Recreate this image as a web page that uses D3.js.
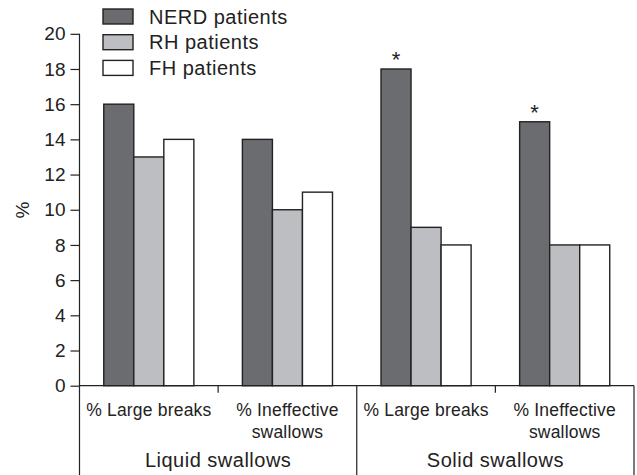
<!DOCTYPE html>
<html><head><meta charset="utf-8">
<script src="https://cdn.jsdelivr.net/npm/d3@7"></script>
<style>body{margin:0;background:#fff}svg{display:block}text{font-family:"Liberation Sans",Arial,sans-serif;fill:#222}</style>
</head><body><svg id="c" width="637" height="475"></svg>
<script>
const categories = ["% Large breaks|", "% Ineffective|swallows", "% Large breaks|", "% Ineffective|swallows"];
const groups = ["Liquid swallows", "Solid swallows"];
const series = ["NERD patients", "RH patients", "FH patients"];
const nerd = [16, 14, 18, 15];
const rh = [13, 10, 9, 8];
const fh = [14, 11, 8, 8];
const starred = [false, false, true, true];
const yTicks = [0, 2, 4, 6, 8, 10, 12, 14, 16, 18, 20];
const colors = ["#6b6c70", "#bdbec1", "#ffffff"];

(function () {
const svg = d3.select("#c");
const pL = 79.5, pR = 634, pT = 33.8, pB = 385.7;
const y = d3.scaleLinear().domain([0, 20]).range([pB, pT]);
const x0 = d3.scaleBand().domain(d3.range(categories.length)).range([pL, pR]).paddingInner(0.35).paddingOuter(0.175);
const x1 = d3.scaleBand().domain(d3.range(series.length)).range([0, x0.bandwidth()]);
const values = [nerd, rh, fh];
const ink = "#222";

values.forEach((vals, s) => {
  svg.append("g").selectAll("rect").data(vals).join("rect")
    .attr("x", (d, i) => x0(i) + x1(s))
    .attr("y", d => y(d))
    .attr("width", x1.bandwidth())
    .attr("height", d => y(0) - y(d))
    .attr("fill", colors[s]).attr("stroke", ink).attr("stroke-width", 1.4);
});

svg.append("g").selectAll("text").data(nerd.map((v, i) => ({v, i})).filter(d => starred[d.i])).join("text")
  .attr("x", d => x0(d.i) + x1(0) + x1.bandwidth() / 2)
  .attr("y", d => y(d.v) - 2)
  .attr("text-anchor", "middle").attr("font-size", 22).text("*");

const yAxis = d3.axisLeft(y).tickValues(yTicks).tickSize(9).tickPadding(5);
const gy = svg.append("g").attr("transform", `translate(${pL},0)`).call(yAxis);
gy.select(".domain").remove();
gy.selectAll("line").attr("stroke", ink).attr("stroke-width", 1.2);
gy.selectAll("text").attr("font-size", 19).attr("font-family", "Liberation Sans").attr("fill", ink);
svg.append("line").attr("x1", pL).attr("x2", pL).attr("y1", pT).attr("y2", 475).attr("stroke", ink).attr("stroke-width", 1.2);

svg.append("line").attr("x1", pL).attr("x2", pR).attr("y1", y(0)).attr("y2", y(0)).attr("stroke", ink).attr("stroke-width", 1.2);
const step = x0.step();
[1, 3].forEach(k => {
  const xx = pL + k * step;
  svg.append("line").attr("x1", xx).attr("x2", xx).attr("y1", y(0)).attr("y2", y(0) + 7).attr("stroke", ink).attr("stroke-width", 1.2);
});
[2, 4].forEach(k => {
  const xx = pL + k * step;
  svg.append("line").attr("x1", xx).attr("x2", xx).attr("y1", y(0)).attr("y2", 475).attr("stroke", ink).attr("stroke-width", 1.2);
});

categories.forEach((c, i) => {
  const lines = c.split("|").filter(s => s);
  const t = svg.append("text").attr("text-anchor", "middle").attr("font-size", 17.5).attr("letter-spacing", 0.2);
  lines.forEach((ln, j) => t.append("tspan").attr("x", x0(i) + x0.bandwidth() / 2).attr("y", 416 + j * 22).text(ln));
});
groups.forEach((g, k) => {
  svg.append("text").attr("x", pL + (2 * k + 1) * step).attr("y", 467)
    .attr("text-anchor", "middle").attr("font-size", 20).attr("letter-spacing", 0.5).text(g);
});

svg.append("text").attr("transform", "translate(29,210) rotate(-90)").attr("text-anchor", "middle").attr("font-size", 19).text("%");

const lg = svg.append("g");
series.forEach((s, i) => {
  lg.append("rect").attr("x", 103).attr("y", 9 + i * 25.7).attr("width", 30).attr("height", 15)
    .attr("fill", colors[i]).attr("stroke", ink).attr("stroke-width", 1.4);
  lg.append("text").attr("x", 149).attr("y", 23.5 + i * 25.7).attr("font-size", 20).attr("letter-spacing", 0.5).text(s);
});
})();
</script></body></html>
